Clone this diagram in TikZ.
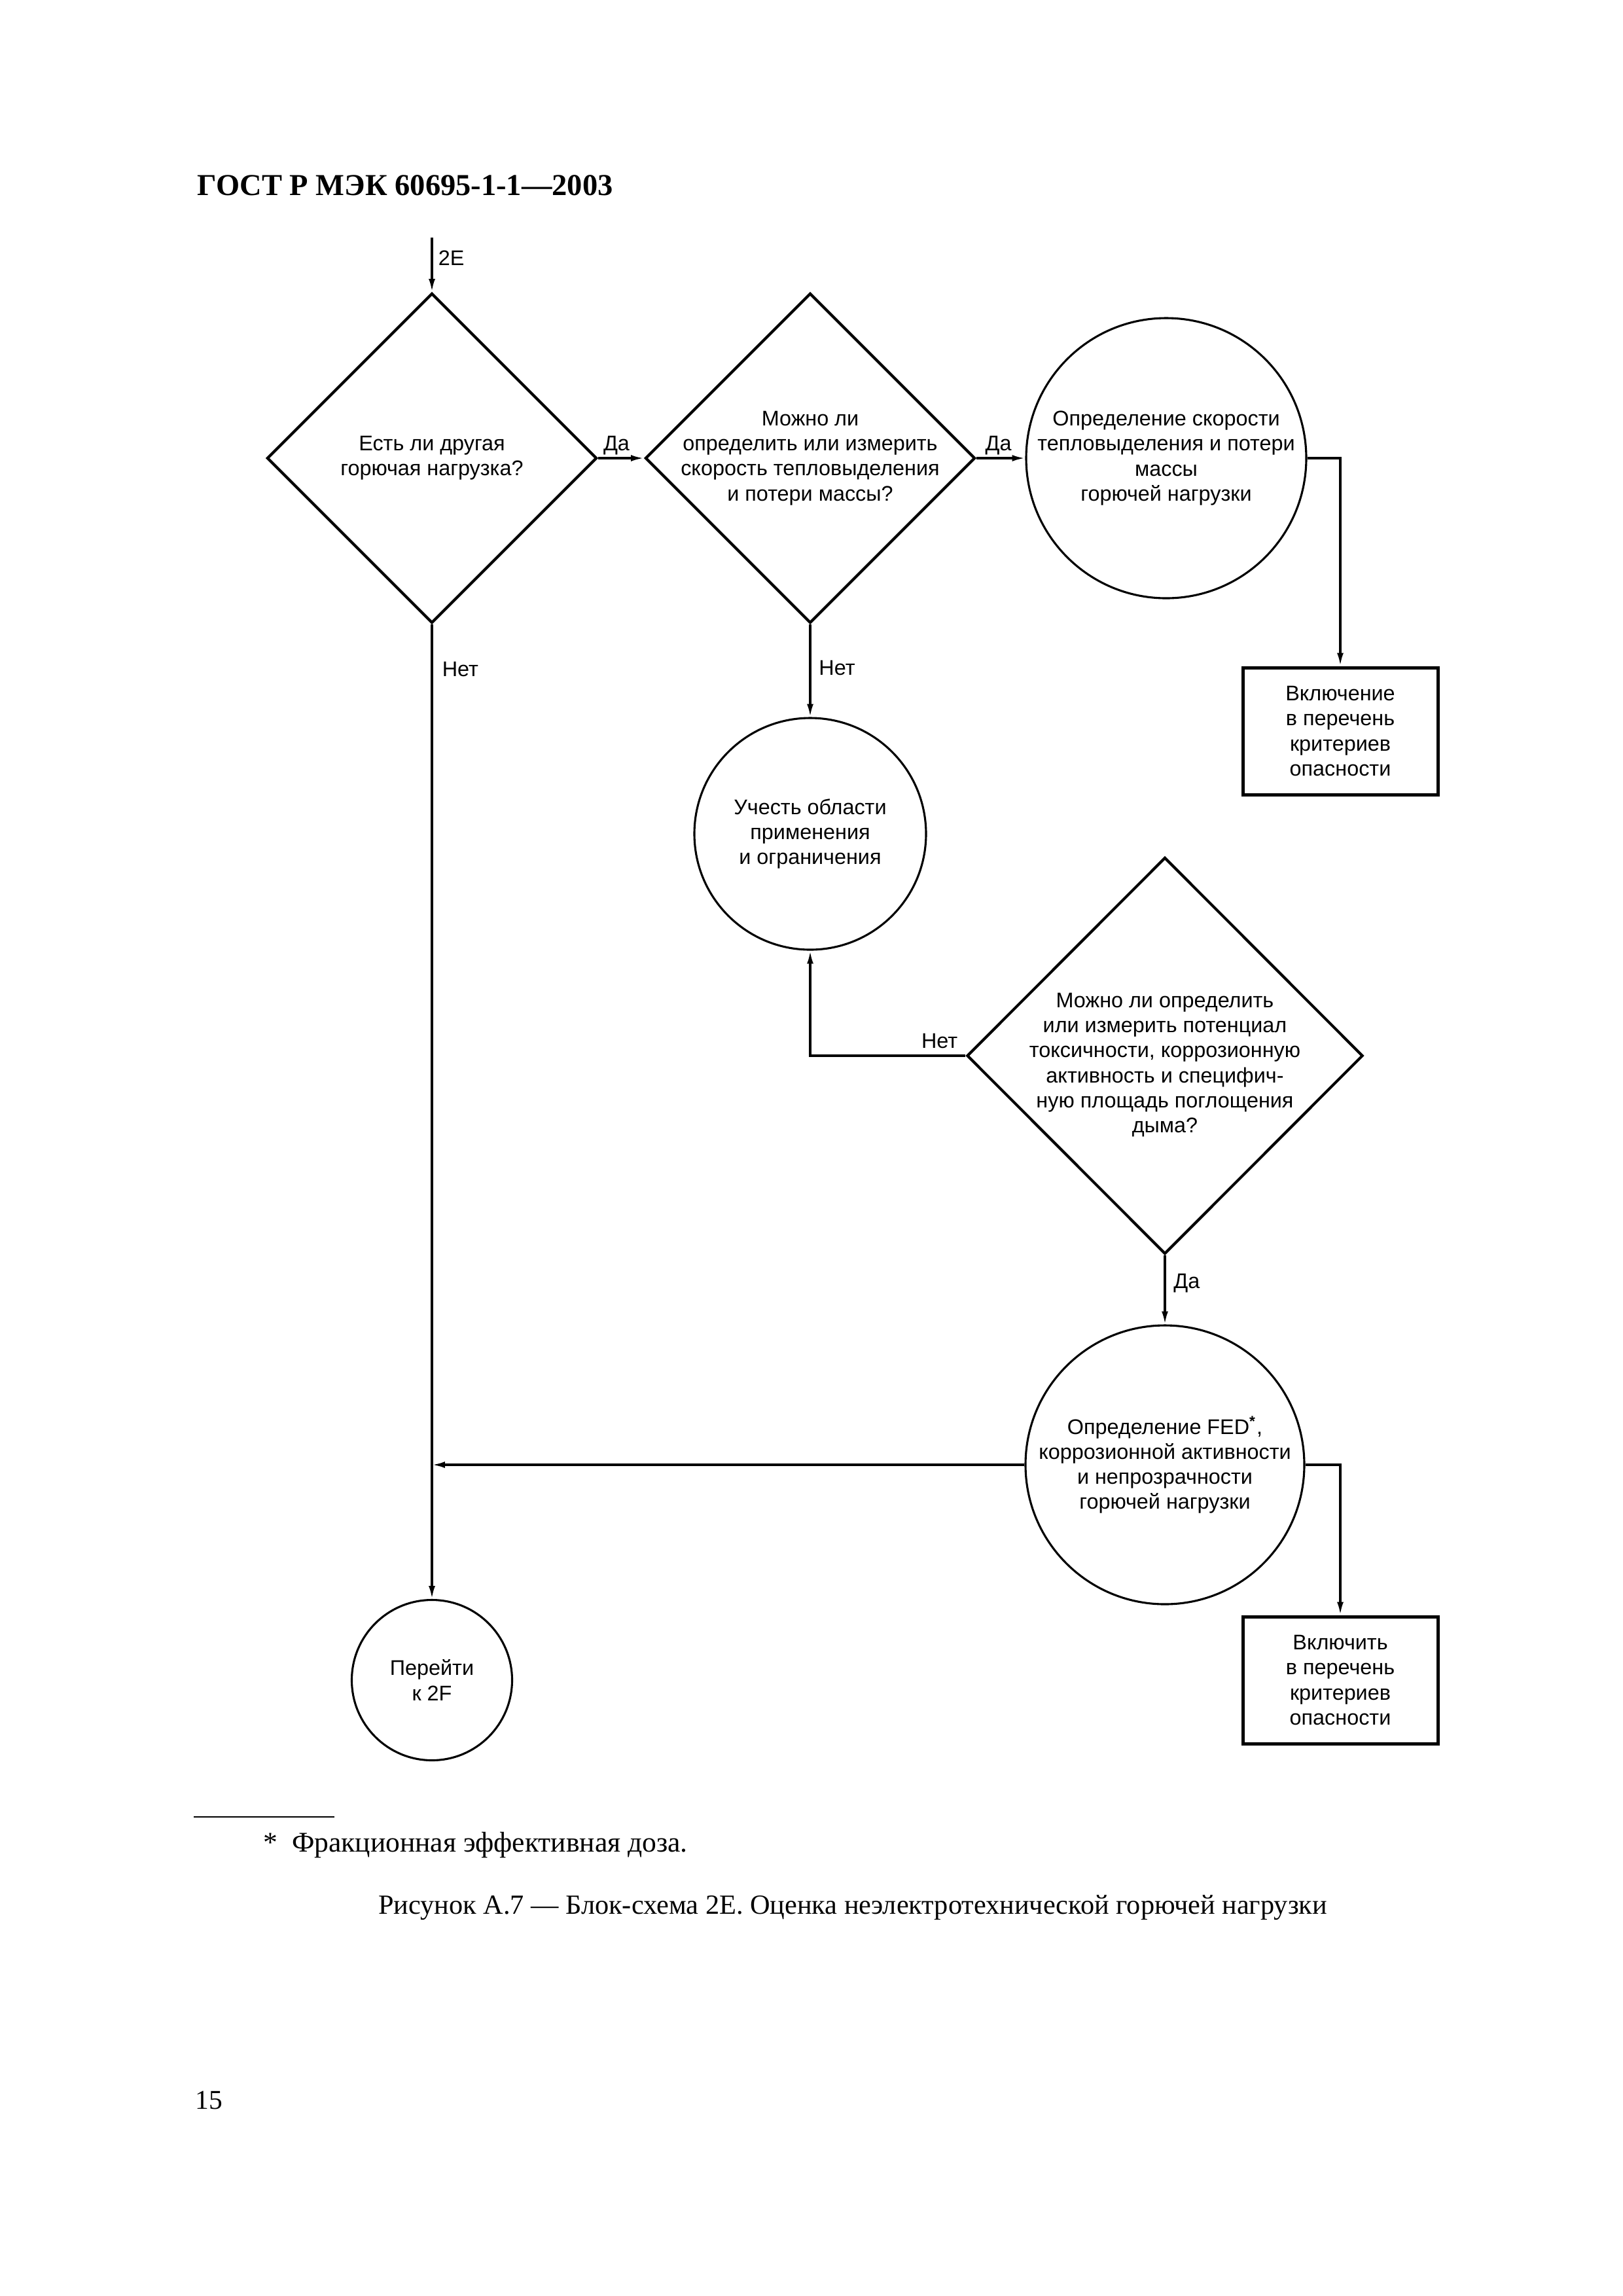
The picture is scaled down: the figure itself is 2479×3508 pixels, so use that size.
\documentclass[tikz,border=0pt]{standalone}
\usepackage{fontspec}
\setmainfont{Liberation Serif}
\newfontfamily\arialfont{Liberation Sans}
\usetikzlibrary{shapes.geometric,arrows.meta}
\def\px{0.08471mm}
\tikzset{
  schemefont/.style={font=\arialfont\fontsize{7.8}{9.2}\selectfont},
  decision/.style={draw, diamond, line width=1pt, inner sep=0pt},
  decisiontext/.style={schemefont, align=center, inner sep=0pt},
  action/.style={draw, circle, line width=0.75pt, inner sep=0pt, align=center, schemefont},
  result/.style={draw, rectangle, line width=1.2pt, inner sep=0pt, align=center, schemefont,
    minimum width=298*\px, minimum height=194*\px},
  flow/.style={line width=0.8pt, -{Latex[length=4.8pt,width=2.4pt]}},
  answer/.style={schemefont, inner sep=0pt},
}

\begin{document}
\begin{tikzpicture}[x=\px, y=-\px]
			%%%%% START %%%%%
			\useasboundingbox (0,0) rectangle (2479,3508);
			
			\node[anchor=base west, font=\bfseries\fontsize{11.2}{13}\selectfont] (title) at (287,298) {ГОСТ Р МЭК 60695-1-1—2003};
			
			% decisions
			\node[decision, minimum width=504*\px, minimum height=504*\px] (d1) at (660,700) {};
			\node[decisiontext] (d1t) at (d1) {Есть ли другая\\горючая нагрузка?};
			
			\node[decision, minimum width=504*\px, minimum height=504*\px] (d2) at (1238,700) {};
			\node[decisiontext] (d2t) at (d2) {Можно ли\\определить или измерить\\скорость тепловыделения\\и потери массы?};
			
			\node[decision, minimum width=605*\px, minimum height=606*\px] (d3) at (1780,1613) {};
			\node[decisiontext] (d3t) at (1780,1627) {Можно ли определить\\или измерить потенциал\\токсичности, коррозионную\\активность и специфич-\\ную площадь поглощения\\дыма?};
			
			% actions
			\node[action, minimum size=428*\px] (c1) at (1782,700) {Определение скорости\\тепловыделения и потери\\массы\\горючей нагрузки};
			\node[action, minimum size=354*\px] (c2) at (1238,1274) {Учесть области\\применения\\и ограничения};
			\node[action, minimum size=426*\px] (c3) at (1780,2238) {Определение FED\textsuperscript{\textbf{*}},\\коррозионной активности\\и непрозрачности\\горючей нагрузки};
			\node[action, minimum size=245*\px] (c4) at (660,2567) {Перейти\\к 2F};
			
			% results
			\node[result] (b1) at (2048,1117) {Включение\\в перечень\\критериев\\опасности};
			\node[result] (b2) at (2048,2567) {Включить\\в перечень\\критериев\\опасности};
			
			% connectors
			\coordinate (start) at (660,363);
			\draw[flow] (start) -- node[answer, anchor=west, pos=0.38, xshift=0.7mm] {2E} (d1.north);
			\draw[flow] (d1.east) -- node[answer, anchor=base, pos=0.4, yshift=1mm] {Да} (d2.west);
			\draw[flow] (d2.east) -- node[answer, anchor=base, pos=0.45, yshift=1mm] {Да} (c1.west);
			\draw[flow] (c1.east) -| (b1.north);
			\draw[flow] (d2.south) -- node[answer, anchor=west, pos=0.47, xshift=1mm] {Нет} (c2.north);
			\draw[flow] (d1.south) -- node[answer, anchor=west, pos=0.046, xshift=1.2mm] {Нет} (c4.north);
			\draw[flow] (d3.west) -| node[answer, anchor=base east, pos=0, xshift=-0.9mm, yshift=1mm] {Нет} (c2.south);
			\draw[flow] (d3.south) -- node[answer, anchor=west, pos=0.4, xshift=1mm] {Да} (c3.north);
			\draw[flow] (c3.west) -- (c3.west -| d1.south);
			\draw[flow] (c3.east) -| (b2.north);
			
			% footnote and caption
			\draw[line width=0.5pt] (296,2776) -- (511,2776);
			\node[anchor=base west, font=\fontsize{10.5}{12}\selectfont] (note) at (388,2829) {*\ \ Фракционная эффективная доза.};
			\node[anchor=base, font=\fontsize{10.2}{12}\selectfont] (caption) at (1303,2924) {Рисунок А.7 — Блок-схема 2Е. Оценка неэлектротехнической горючей нагрузки};
			\node[anchor=base west, font=\fontsize{10}{12}\selectfont] (page) at (284,3222) {15};
			
			%%%%% END %%%%%
		\end{tikzpicture}
\end{document}
